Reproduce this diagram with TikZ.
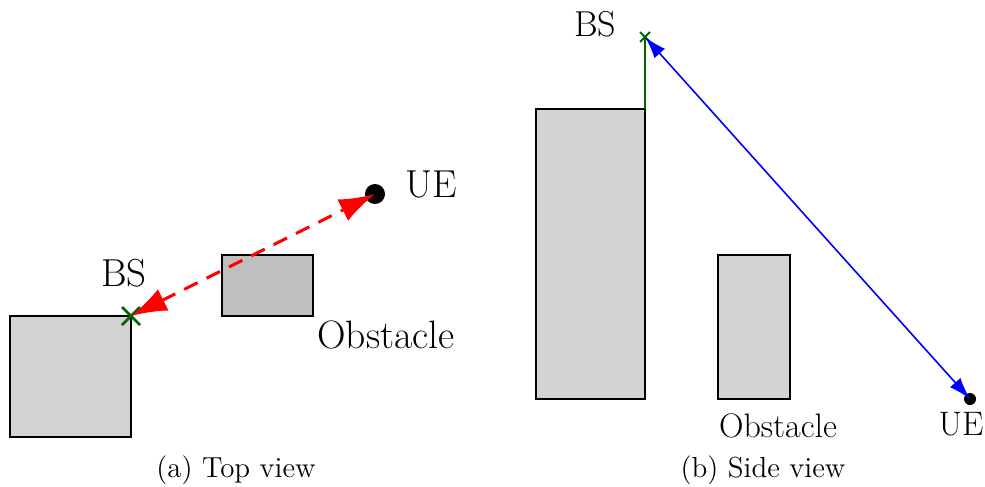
\documentclass[tikz,border=0pt]{standalone}
\usetikzlibrary{arrows.meta,calc}
\definecolor{bsgreen}{RGB}{0,100,0}
\definecolor{boxgray}{RGB}{211,211,211}
\definecolor{obsgray}{RGB}{191,191,191}
\begin{document}
\begin{tikzpicture}[x=0.5pt,y=-0.5pt,
  bldg/.style={draw=black,line width=1pt,fill=boxgray},
  obst/.style={draw=black,line width=1pt,fill=obsgray},
  bigfont/.style={font=\fontsize{19.5}{22}\selectfont},
  obfont/.style={font=\fontsize{19.8}{22}\selectfont},
  midfont/.style={font=\fontsize{17}{20}\selectfont},
  capfont/.style={font=\fontsize{14.5}{17}\selectfont},
  crossmark/.style={draw=bsgreen,line width=1.3pt},
  redlink/.style={draw=red,line width=1.5pt,dash pattern=on 7.5pt off 5pt,
     {Latex[length=18pt,width=12pt]}-{Latex[length=18pt,width=12pt]}},
  bluelink/.style={draw=blue,line width=0.8pt,
     {Latex[length=11pt,width=7pt]}-{Latex[length=11pt,width=7pt]}}]
\useasboundingbox (0,0) rectangle (985,487);
% ---- left: top view
\draw[bldg] (10,316) rectangle (131,437);
\draw[obst] (222,255) rectangle (313,316);
\coordinate (bsA) at (131,316);
\coordinate (ueA) at (375,194);
\fill[black] (ueA) circle (10);
\draw[crossmark] ($(bsA)+(-9,-9)$) -- ($(bsA)+(9,9)$);
\draw[crossmark] ($(bsA)+(-9,9)$) -- ($(bsA)+(9,-9)$);
\draw[redlink] (bsA) -- (ueA);
\node[bigfont] (bsAl) at (124,273) {BS};
\node[bigfont] (ueAl) at (431,184) {UE};
\node[obfont] (obAl) at (386,335) {Obstacle};
\node[capfont] (capA) at (236,470) {(a) Top view};
% ---- right: side view
\draw[bldg] (536,109) rectangle (645,399);
\draw[bldg] (718,255) rectangle (790,399);
\coordinate (roof) at (645,109);
\coordinate (bsB) at (645,37);
\coordinate (ueB) at (970,399);
\draw[bsgreen,line width=0.8pt] (roof) -- (bsB);
\draw[crossmark,line width=0.9pt] ($(bsB)+(-5,-5)$) -- ($(bsB)+(5,5)$);
\draw[crossmark,line width=0.9pt] ($(bsB)+(-5,5)$) -- ($(bsB)+(5,-5)$);
\fill[black] (ueB) circle (6);
\draw[bluelink] (bsB) -- (ueB);
\node[font=\fontsize{18}{20}\selectfont] (bsBl) at (595,24) {BS};
\node[midfont] (obBl) at (778,426) {Obstacle};
\node[midfont] (ueBl) at (961,424) {UE};
\node[capfont] (capB) at (763,470) {(b) Side view};
\end{tikzpicture}
\end{document}
